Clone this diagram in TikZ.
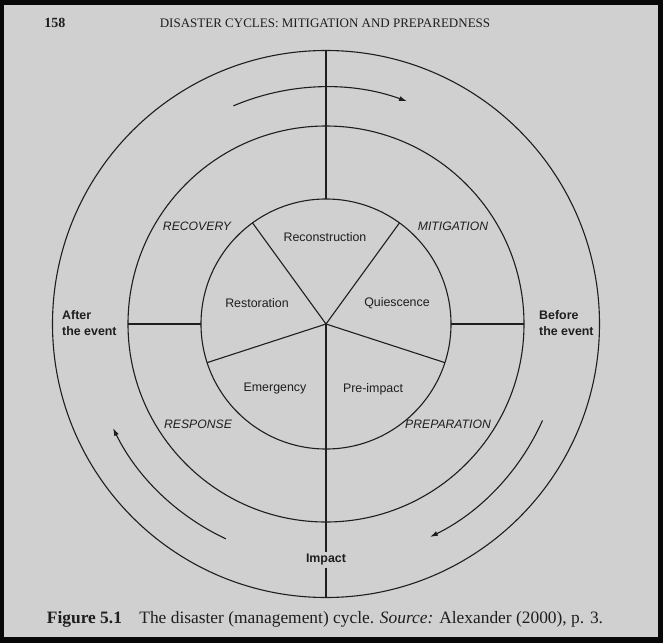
\documentclass[tikz,border=0pt]{standalone}
\usepackage{fontspec}
\setmainfont{Liberation Serif}
\setsansfont{Liberation Sans}
\usepackage{xcolor}
\definecolor{cyclePaper}{HTML}{D0D0D0}
\definecolor{cycleInk}{HTML}{1E1E1E}
\definecolor{cycleFrame}{HTML}{080808}
\usetikzlibrary{
  arrows.meta,
  positioning,
  calc
}
\tikzset{
  ring/.style={
    circle,draw=cycleInk,line width=1.1pt,
    inner sep=0pt,outer sep=0pt,minimum size=#1
  },
  sector/.style={
    font=\sffamily\fontsize{12.4}{14}\selectfont,
    text=cycleInk,inner sep=1pt
  },
  phaselbl/.style={
    font=\sffamily\itshape\fontsize{12.2}{14}\selectfont,
    text=cycleInk,inner sep=1pt
  },
  eventlbl/.style={
    font=\sffamily\bfseries\fontsize{12.4}{16}\selectfont,
    text=cycleInk,align=left,inner sep=2pt
  },
  spoke/.style={draw=cycleInk,line width=1.1pt},
  cyclearr/.style={-{Latex[length=8pt,width=5pt]},draw=cycleInk,line width=1.1pt},
}

\begin{document}
\begin{tikzpicture}[
  headtxt/.style={font=\fontsize{13}{15}\selectfont,text=cycleInk},
  captxt/.style={font=\fontsize{17.4}{20}\selectfont,text=cycleInk}
]
\useasboundingbox (-326pt,-319pt) rectangle (337pt,324pt);
\fill[cycleFrame] (-326pt,-319pt) rectangle (337pt,324pt);
\fill[cyclePaper] (-322pt,-313pt) rectangle (332pt,319pt);

\coordinate (c) at (0,0);
\node[ring=547pt] (outer)  at (c) {};
\node[ring=396pt] (middle) at (c) {};
\node[ring=250pt] (inner)  at (c) {};

\node[eventlbl] (impact) at (0,-236pt) {Impact};
\node[eventlbl,anchor=west] (after)  at (-266pt,1pt) {After\\the event};
\node[eventlbl,anchor=west] (before) at (211pt,1pt) {Before\\the event};

\foreach \a in {54,126,198,342}
  \draw[spoke] (c) -- (inner.\a);
\draw[spoke] (outer.90) -- (inner.90);
\draw[spoke] (middle.180) -- (inner.180);
\draw[spoke] (inner.0) -- (middle.0);
\draw[spoke] (c) -- (impact);
\draw[spoke] (impact) -- (outer.270);

\node[sector] (recon)   at (-1pt,87pt)   {Reconstruction};
\node[sector] (restore) at (-69pt,21pt)  {Restoration};
\node[sector] (quiet)   at (71pt,21pt)   {Quiescence};
\node[sector] (emerg)   at (-51pt,-65pt) {Emergency};
\node[sector] (preimp)  at (47pt,-65pt)  {Pre-impact};

\node[phaselbl] (recovery) at (-129pt,98pt)  {RECOVERY};
\node[phaselbl] (mitig)    at (127pt,98pt)   {MITIGATION};
\node[phaselbl] (response) at (-128pt,-100pt) {RESPONSE};
\node[phaselbl] (prep)     at (122pt,-100pt) {PREPARATION};

\draw[cyclearr] (113:237pt) arc[start angle=113,end angle=70,radius=237pt];
\draw[cyclearr] (-24:237pt) arc[start angle=-24,end angle=-64,radius=237pt];
\draw[cyclearr] (245:237pt) arc[start angle=245,end angle=206,radius=237pt];

\node[headtxt,font=\fontsize{14}{15}\selectfont\bfseries] (page) at (-271pt,301pt) {158};
\node[headtxt] (runhead) at (-1pt,301pt) {DISASTER CYCLES: MITIGATION AND PREPAREDNESS};
\node[captxt] (caption) at (-1pt,-295pt)
  {\textbf{Figure 5.1}\quad The disaster (management) cycle. \textit{Source:} Alexander (2000), p. 3.};

\end{tikzpicture}
\end{document}
